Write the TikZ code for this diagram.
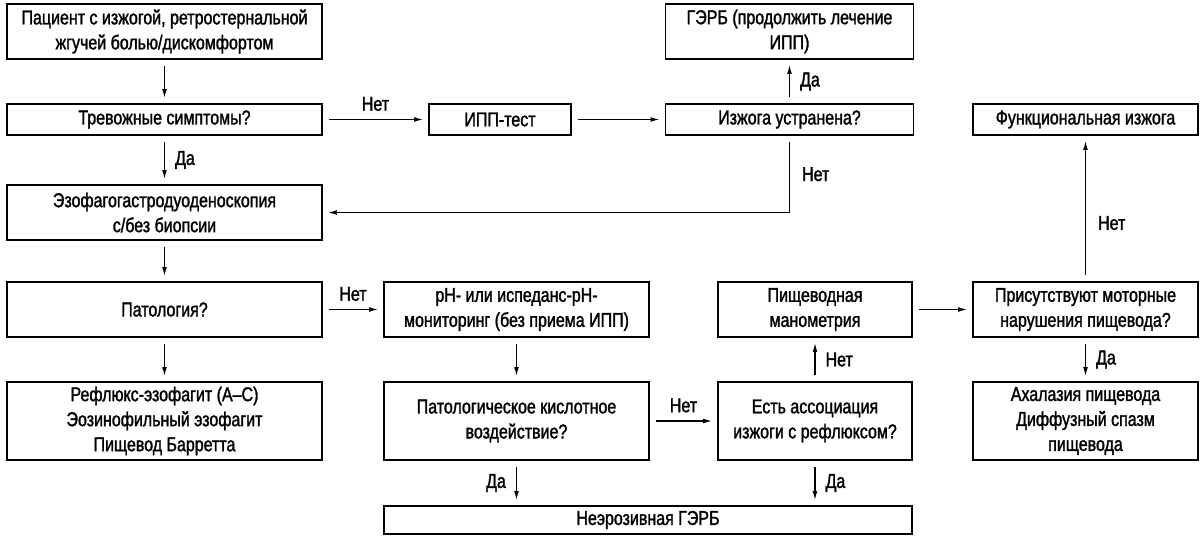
\documentclass[tikz,border=0pt]{standalone}
\usepackage{fontspec}
\setmainfont{Liberation Sans}[FakeStretch=0.8,FakeBold=1.5]
\usepackage{tikz}
\usetikzlibrary{arrows.meta,positioning,calc}

\tikzset{
  box/.style={draw,line width=0.95pt,align=center,inner sep=1pt},
  arr/.style={-{Latex[length=4.5pt,width=2.4pt]},line width=0.6pt,shorten <=3pt,shorten >=2.5pt},
  lab/.style={inner sep=1pt}
}

\begin{document}
\begin{tikzpicture}[x=0.5pt,y=-0.5pt,font=\fontsize{10}{12.5}\selectfont]
\useasboundingbox (0,0) rectangle (1200,536);
% left column
\node[box,minimum width=157.5pt,minimum height=27.5pt] (pat) at (164.5,31.5) {Пациент с изжогой, ретростернальной\\жгучей болью/дискомфортом};
\node[box,minimum width=157.5pt,minimum height=15.5pt] (alarm) at (164.5,119.5) {Тревожные симптомы?};
\node[box,minimum width=157.5pt,minimum height=27.5pt] (egd) at (164.5,212.5) {Эзофагогастродуоденоскопия\\с/без биопсии};
\node[box,minimum width=157.5pt,minimum height=27.5pt] (patol) at (164.5,309.5) {Патология?};
\node[box,minimum width=157.5pt,minimum height=39pt] (refl) at (164.5,421) {Рефлюкс-эзофагит (А--С)\\Эозинофильный эзофагит\\Пищевод Барретта};
% top row
\node[box,minimum width=71pt,minimum height=15.5pt] (ppi) at (500,119.5) {ИПП-тест};
\node[box,minimum width=124pt,minimum height=15.5pt] (resolved) at (789.5,119.5) {Изжога устранена?};
\node[box,minimum width=124pt,minimum height=27.5pt] (gerd) at (789.5,31.5) {ГЭРБ (продолжить лечение\\ИПП)};
\node[box,minimum width=112.5pt,minimum height=15.5pt] (func) at (1085.5,119.5) {Функциональная изжога};
% lower rows
\node[box,minimum width=132.5pt,minimum height=27.5pt] (ph) at (516.5,309.5) {pH- или испеданс-pH-\\мониторинг (без приема ИПП)};
\node[box,minimum width=97pt,minimum height=27.5pt] (mano) at (815,309.5) {Пищеводная\\манометрия};
\node[box,minimum width=112.5pt,minimum height=27.5pt] (motor) at (1085.5,309.5) {Присутствуют моторные\\нарушения пищевода?};
\node[box,minimum width=132.5pt,minimum height=39pt] (acid) at (516.5,421) {Патологическое кислотное\\воздействие?};
\node[box,minimum width=97pt,minimum height=39pt] (assoc) at (815,421) {Есть ассоциация\\изжоги с рефлюксом?};
\node[box,minimum width=112.5pt,minimum height=39pt] (achal) at (1085.5,421) {Ахалазия пищевода\\Диффузный спазм\\пищевода};
\node[box,minimum width=264pt,minimum height=14pt] (nerd) at (648,520) {Неэрозивная ГЭРБ};

% connectors
\foreach \a/\b in {pat/alarm,egd/patol,patol/refl,ph/acid,ppi/resolved,mano/motor}
  \draw[arr] (\a) -- (\b);
\draw[arr] (alarm) -- node[lab,midway,right=4pt] {Да} (egd);
\draw[arr] (alarm) -- node[lab,midway,above=3pt] {Нет} (ppi);
\draw[arr] (resolved) -- node[lab,midway,right=4pt] {Да} (gerd);
\draw[arr] (resolved.south) -- node[lab,pos=0.5,right=5pt] {Нет} (resolved.south |- egd.east) -- (egd.east);
\draw[arr] (patol) -- node[lab,midway,above=3pt] {Нет} (ph);
\draw[arr] (acid) -- node[lab,midway,above=3pt] {Нет} (assoc);
\draw[arr] (acid.south) -- node[lab,midway,left=4pt] {Да} (acid.south |- nerd.north);
\draw[arr] (assoc.south) -- node[lab,midway,right=4pt] {Да} (assoc.south |- nerd.north);
\draw[arr] (assoc) -- node[lab,midway,right=4pt] {Нет} (mano);
\draw[arr] (motor) -- node[lab,pos=0.4,right=5pt] {Нет} (func);
\draw[arr] (motor) -- node[lab,midway,right=4pt] {Да} (achal);
\end{tikzpicture}
\end{document}
